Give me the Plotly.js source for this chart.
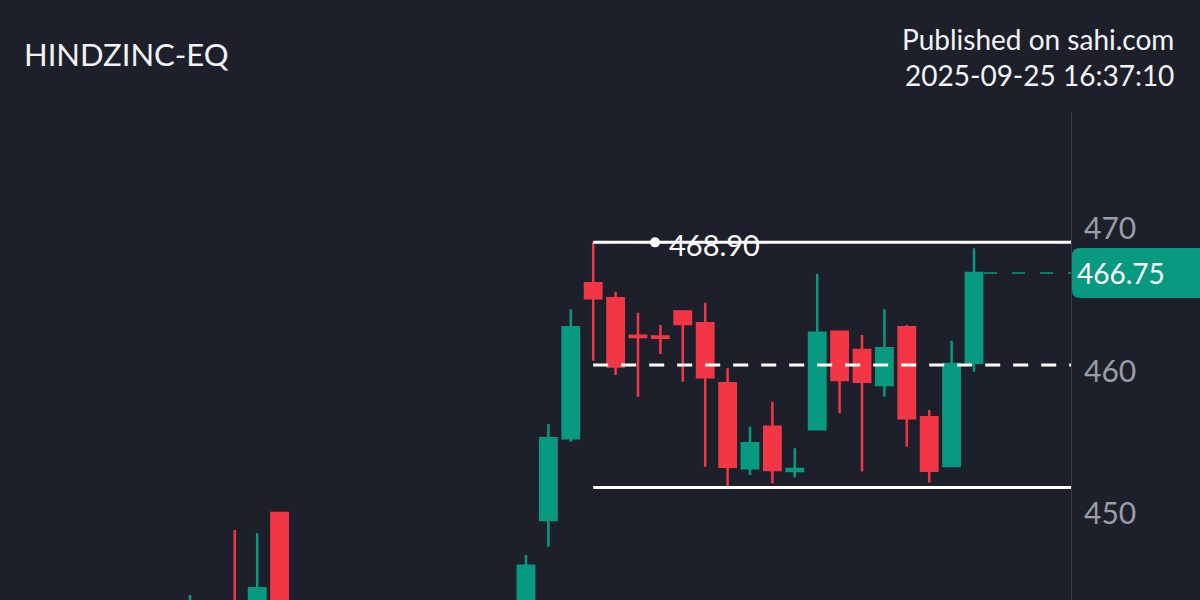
<!DOCTYPE html>
<html>
<head>
<meta charset="utf-8">
<script src="https://cdn.plot.ly/plotly-3.0.1.min.js"></script>
<style>
  html, body { margin: 0; padding: 0; background: #1d202a; }
  #chart { width: 1200px; height: 600px; }
</style>
</head>
<body>
<div id="chart"></div>
<script>
// ---- Data ----
const symbol = "HINDZINC-EQ";
const publishedText = "Published on sahi.com";
const publishedTime = "2025-09-25 16:37:10";

const open  = [442.0, 443.0, 443.5, 443.0, 449.9, 442.8, 440.2, 439.1, 440.3, 439.6, 437.5, 439.2, 440.8, 441.9, 441.2, 442.7,
               449.42, 455.15, 466.03, 464.98, 462.35, 462.30, 464.04, 463.22, 459.01, 453.04, 455.96, 452.85, 455.78, 462.63,
               461.35, 458.89, 462.94, 456.62, 453.21, 460.46];
const high  = [444.15, 443.5, 448.72, 448.48, 449.95, 443.4, 441.6, 440.8, 441.9, 440.5, 439.9, 441.3, 442.4, 443.2, 443.1, 446.96,
               456.15, 464.20, 468.90, 465.44, 463.96, 463.10, 464.05, 464.67, 460.06, 455.96, 457.72, 454.45, 466.68, 462.70,
               462.40, 464.20, 463.10, 457.14, 462.00, 468.48];
const low   = [441.5, 441.0, 440.5, 442.0, 442.5, 439.5, 438.4, 437.6, 438.9, 436.8, 436.9, 438.5, 439.7, 440.6, 440.4, 442.2,
               447.54, 454.91, 460.60, 459.59, 458.07, 461.07, 459.12, 453.16, 451.70, 452.58, 451.99, 452.41, 455.70, 456.90,
               452.81, 458.07, 454.56, 452.04, 453.15, 459.82];
const close = [443.5, 442.0, 441.0, 444.62, 443.0, 440.2, 439.1, 440.3, 439.6, 437.5, 439.2, 440.8, 441.9, 441.2, 442.7, 446.21,
               455.15, 462.94, 464.98, 460.18, 462.25, 462.20, 463.17, 459.43, 453.16, 454.80, 452.93, 453.00, 462.56, 459.24,
               459.12, 461.47, 456.55, 452.88, 460.36, 466.75];
const tickValues = [450, 460, 470];

// Range box (drawn tool): starts at the candle that made the high
const boxStart = 18;

// ---- Derived ----
const idx = close.map((_, i) => i);
const lastClose = close[close.length - 1];
const lastIdx = idx[idx.length - 1];
const boxHigh = Math.max(...high.slice(boxStart));
const boxLow = Math.min(...low.slice(boxStart));
const boxMid = (boxHigh + boxLow) / 2;

// ---- Style / layout constants ----
const GREEN = "#089981";
const RED = "#f23645";
const BG = "#1d202a";
const xRange = [-8.48, 39.33];
const yRange = [443.80, 478.05];
const FONT = "Lato, 'Open Sans', sans-serif";

const candle = {
  type: "candlestick",
  x: idx, open: open, high: high, low: low, close: close,
  increasing: { line: { color: GREEN, width: 2.5 }, fillcolor: GREEN },
  decreasing: { line: { color: RED, width: 2.5 }, fillcolor: RED },
  whiskerwidth: 0,
  hoverinfo: "skip",
  showlegend: false
};

const dot = {
  type: "scatter", mode: "markers",
  x: [boxStart + 2.76], y: [boxHigh],
  marker: { color: "#ffffff", size: 10 },
  hoverinfo: "skip", showlegend: false, cliponaxis: false
};

const layout = {
  width: 1200, height: 600,
  paper_bgcolor: BG, plot_bgcolor: BG,
  margin: { l: 0, r: 129, t: 112, b: 0 },
  showlegend: false,
  boxgap: 0.27, boxgroupgap: 0,
  font: { family: FONT, color: "#9598a1" },
  title: {
    text: symbol,
    x: 24 / 1200, xref: "container", xanchor: "left",
    y: 1 - 55 / 600, yref: "container", yanchor: "middle",
    font: { family: FONT, size: 31, color: "#f2f3f5" }
  },
  xaxis: {
    range: xRange, visible: false, fixedrange: true,
    rangeslider: { visible: false }, showgrid: false, zeroline: false
  },
  yaxis: {
    range: yRange, side: "right", fixedrange: true,
    showline: true, linecolor: "#3b3e48", linewidth: 1, mirror: false,
    showgrid: false, zeroline: false,
    tickvals: tickValues, ticktext: tickValues.map(String),
    ticks: "", ticklabelstandoff: 6, ticklabelshift: 2,
    tickfont: { family: FONT, size: 30, color: "#9a9da6" }
  },
  shapes: [
    { type: "line", xref: "x", yref: "y", x0: boxStart, x1: xRange[1], y0: boxHigh, y1: boxHigh,
      line: { color: "#ffffff", width: 3 }, layer: "above" },
    { type: "line", xref: "x", yref: "y", x0: boxStart, x1: xRange[1], y0: boxLow, y1: boxLow,
      line: { color: "#ffffff", width: 3 }, layer: "above" },
    { type: "line", xref: "x", yref: "y", x0: boxStart, x1: xRange[1], y0: boxMid, y1: boxMid,
      line: { color: "#ffffff", width: 3, dash: "15px,13px" }, layer: "above" },
    { type: "line", xref: "x", yref: "y", x0: lastIdx + 0.45, x1: xRange[1], y0: lastClose, y1: lastClose,
      line: { color: GREEN, width: 1.5, dash: "13px,15px" }, layer: "above" },
    { type: "path", xref: "paper", yref: "y", xsizemode: "pixel", ysizemode: "pixel",
      xanchor: 1, yanchor: lastClose,
      path: "M 9,-25 L 140,-25 L 140,25 L 9,25 Q 1,25 1,17 L 1,-17 Q 1,-25 9,-25 Z",
      fillcolor: GREEN, line: { width: 0 }, layer: "above" }
  ],
  annotations: [
    { xref: "paper", yref: "y", x: 1, y: lastClose, xanchor: "left", yanchor: "middle",
      xshift: 4, text: lastClose.toFixed(2), showarrow: false,
      font: { family: FONT, size: 28, color: "#ffffff" } },
    { xref: "x", yref: "y", x: boxStart + 3.3, y: boxHigh, xanchor: "left", yanchor: "middle",
      yshift: -2, text: boxHigh.toFixed(2), showarrow: false,
      font: { family: FONT, size: 29, color: "#ffffff" } },
    { xref: "paper", yref: "paper", x: 1176 / 1071, y: (600 - 57) / 488, xanchor: "right", yanchor: "middle",
      align: "right", text: publishedText + "<br>" + publishedTime, showarrow: false,
      font: { family: FONT, size: 28, color: "#f2f3f5" } }
  ]
};

Plotly.newPlot("chart", [candle, dot], layout, { displayModeBar: false, staticPlot: true });
</script>
</body>
</html>
